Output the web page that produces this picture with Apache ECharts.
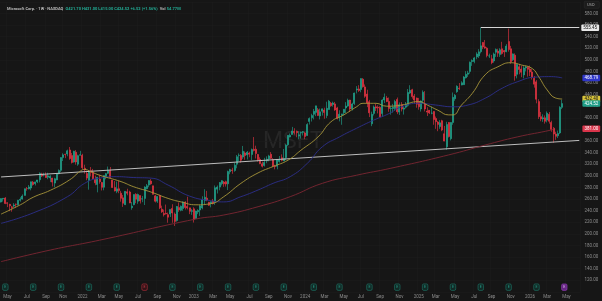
<!DOCTYPE html>
<html style="height: 100%">
<head>
<meta charset="utf-8">
</head>
<body style="height: 100%; margin: 0; background: #161616">
<div id="container" style="width: 602px; height: 301px"></div>
<script src="https://cdn.jsdelivr.net/npm/echarts@6/dist/echarts.min.js"></script>
<script>
var firstWeek = '2021-04-12';
var weekCount = 271; // includes empty weeks to the right of the last bar

// weekly bars: [open, close, low, high]
var ohlc2021 = [
  [254.7,260.7,254.0,261.0],[260.2,261.2,255.5,261.5],[261.7,252.2,251.1,263.2],[253.4,252.5,246.0,254.4],
  [250.9,248.2,239.0,251.7],[246.5,245.2,238.1,248.3],[247.8,249.7,245.1,252.9],[251.2,250.8,245.2,252.1],
  [250.0,257.9,249.0,258.5],[257.9,259.4,255.4,263.0],[259.8,265.0,259.0,267.9],[266.2,277.7,265.9,278.0],
  [278.0,277.9,274.3,280.7],[277.5,280.8,276.6,284.1],[278.9,289.7,275.0,289.9],[289.0,284.9,283.0,291.0],
  [286.4,289.5,283.3,290.0],[289.8,292.9,287.4,293.0],[293.2,304.4,288.6,305.8],[303.2,299.7,298.0,305.3],
  [301.1,301.1,299.0,305.2],[301.0,297.0,296.5,305.8],[297.6,299.9,294.1,305.3],[296.3,299.4,289.2,301.0],
  [296.1,289.1,281.6,296.5],[287.4,294.9,280.3,296.6],[292.9,304.2,292.3,304.5],[303.6,309.2,302.4,311.1],
  [309.4,331.6,306.5,332.0],[331.4,336.1,325.5,338.8],[337.3,336.7,330.4,338.0],[337.5,343.1,333.7,345.1],
  [344.6,329.7,327.6,349.7],[334.9,323.0,321.2,339.3],[323.9,342.5,322.7,343.0],[340.7,323.8,319.2,344.3],
  [320.1,334.7,317.3,336.4],[335.5,336.3,335.0,343.0]
];
var ohlc2022 = [
  [335.4,314.0,311.5,338.0],[313.2,310.2,303.7,319.1],[304.0,296.0,292.4,309.1],[292.2,308.3,276.1,308.5],
  [308.9,305.9,299.0,315.1],[306.2,295.0,294.4,311.9],[293.8,287.9,283.7,300.3],[285.0,297.3,271.5,297.6],
  [294.3,289.9,286.4,302.0],[288.5,280.1,274.7,289.5],[280.3,300.4,275.0,300.6],[298.9,303.7,294.0,305.0],
  [304.3,309.4,303.0,316.0],[309.4,297.0,295.0,315.1],[292.6,279.8,279.3,292.7],[280.0,274.0,273.0,290.9],
  [273.3,277.5,270.0,290.0],[277.7,274.7,270.0,290.9],[270.1,261.1,255.4,274.0],[262.0,252.6,246.4,267.0],
  [250.3,273.2,249.5,273.3],[272.5,270.0,266.4,277.7],[272.1,253.0,252.9,274.2],[245.1,247.7,241.5,254.8],
  [250.3,267.7,249.2,268.0],[268.2,259.6,252.8,270.0],[256.2,267.7,251.7,269.3],[265.9,256.7,252.2,265.9],
  [259.8,260.4,254.5,265.3],[261.0,280.7,249.6,282.0],[277.8,282.9,276.6,285.9],[284.0,291.9,280.4,292.4],
  [291.0,286.2,284.5,294.2],[282.8,268.1,267.6,283.0],[265.4,256.1,254.0,267.1],[256.2,264.5,253.2,264.9],
  [265.9,244.7,242.6,267.5],[242.5,237.9,236.0,248.5],[234.9,232.9,229.8,241.8],[235.4,234.2,233.4,250.4],
  [233.0,228.6,219.1,236.6],[234.0,242.1,228.9,242.4],[243.8,235.9,219.1,251.0],[234.0,221.4,213.4,236.7],
  [223.0,247.1,221.0,248.0],[245.2,241.2,237.8,254.0],[240.6,247.5,238.8,248.9],[243.5,255.0,239.5,256.0],
  [254.8,245.4,241.8,256.1],[247.0,244.7,242.0,263.9],[244.7,238.7,233.9,245.0],[238.7,239.8,232.7,242.9]
];
var ohlc2023 = [
  [243.1,224.9,219.4,245.8],[226.5,239.2,225.7,239.9],[237.9,240.2,233.9,242.4],[241.1,248.2,230.9,249.8],
  [244.5,258.4,242.2,264.7],[257.4,263.1,250.5,276.8],[261.5,258.1,256.1,274.0],[254.5,249.2,248.1,255.0],
  [252.5,255.3,245.6,255.6],[256.4,252.3,250.6,260.1],[256.0,279.4,250.0,283.3],[276.9,280.6,269.5,283.3],
  [280.5,288.3,275.0,289.3],[286.5,291.6,283.4,292.4],[289.2,286.1,281.0,291.0],[289.9,285.8,281.4,291.6],
  [286.1,307.3,275.4,308.9],[306.9,310.7,302.6,312.0],[310.1,309.0,303.5,313.8],[309.1,318.3,307.0,322.6],
  [320.0,332.9,313.0,335.9],[335.2,335.4,325.1,338.6],[335.2,326.8,322.5,337.5],[332.3,342.3,329.1,351.5],
  [339.3,335.0,327.7,342.1],[336.0,340.5,328.2,342.7],[339.2,337.2,332.0,341.6],[336.6,345.2,327.0,347.0],
  [345.7,343.8,342.0,366.8],[345.9,338.4,329.9,351.9],[336.9,327.8,324.4,337.7],[328.4,321.0,320.0,332.0],
  [320.8,316.5,314.5,324.4],[317.9,323.0,316.0,331.0],[325.7,328.7,321.7,333.5],[329.0,334.3,325.0,336.2],
  [337.2,330.2,329.0,340.9],[327.8,317.0,315.0,330.4],[316.6,315.8,311.2,319.0],[316.3,327.3,311.2,327.5],
  [324.8,327.7,322.7,334.1],[331.1,326.7,324.9,336.9],[325.5,329.8,325.5,346.2],[331.3,352.8,326.9,354.4],
  [353.5,369.7,351.5,370.1],[366.8,369.9,366.1,373.0],[371.2,377.4,371.2,384.3],[376.8,374.5,371.1,382.0],
  [376.8,374.2,366.5,378.0],[368.5,370.7,362.9,377.0],[373.7,374.6,364.2,376.2],[375.0,376.0,369.5,377.2]
];
var ohlc2024 = [
  [373.9,367.8,362.9,376.0],[369.3,388.5,369.0,390.7],[393.7,398.7,388.4,400.7],[400.0,403.9,393.6,407.0],
  [406.1,411.2,397.2,415.3],[409.3,420.6,402.9,420.8],[413.9,404.1,403.4,417.0],[403.2,410.3,397.2,415.9],
  [411.5,415.5,403.9,415.9],[413.4,409.1,398.4,417.4],[403.8,416.4,399.4,427.8],[414.3,428.7,414.0,430.8],
  [425.2,420.7,419.1,427.4],[423.0,425.5,419.3,427.9],[424.0,413.6,412.0,427.4],[417.1,399.1,397.2,418.9],
  [400.1,406.3,393.8,413.0],[405.3,406.7,388.0,407.0],[408.8,414.7,404.0,415.2],[417.0,420.2,408.0,427.0],
  [420.2,430.2,419.0,433.0],[430.6,415.1,410.3,431.0],[415.5,423.9,412.6,426.0],[424.7,442.6,422.2,443.5],
  [448.1,449.8,442.0,454.6],[449.8,447.0,444.6,456.2],[448.7,467.6,444.0,468.0],[466.6,453.6,452.0,468.4],
  [453.3,437.1,434.5,457.5],[441.0,425.3,418.4,448.4],[427.8,408.5,401.2,430.9],[389.7,406.0,385.6,410.6],
  [407.6,418.5,404.0,421.2],[419.0,416.8,411.6,424.4],[418.0,417.1,407.6,421.5],[417.9,401.7,401.3,419.9],
  [407.2,430.6,402.1,432.0],[430.6,435.3,425.3,441.9],[434.0,428.0,427.0,437.8],[428.2,416.1,410.4,435.0],
  [416.0,416.3,405.5,419.7],[416.1,418.2,408.9,424.0],[416.1,428.2,412.0,431.0],[431.7,410.4,406.3,435.0],
  [409.8,422.5,404.9,426.5],[422.5,415.0,411.0,427.0],[414.9,417.0,405.6,419.8],[418.4,423.5,416.1,427.2],
  [421.6,443.6,419.3,449.6],[442.6,447.3,441.0,456.2],[448.4,436.6,433.0,450.0],[437.7,430.5,425.0,441.0],
  [434.0,423.4,417.4,435.0]
];
var ohlc2025 = [
  [428.0,419.0,414.0,434.3],[415.2,429.0,410.7,430.0],[430.2,444.1,424.0,447.3],[424.0,415.1,411.0,446.0],
  [411.6,409.8,403.0,418.2],[413.0,408.4,406.5,411.0],[408.0,408.2,406.0,419.0],[411.0,397.0,388.0,411.5],
  [398.8,393.3,381.0,402.2],[392.7,388.6,376.9,394.4],[385.0,391.3,381.0,396.0],[395.0,378.8,377.0,396.6],
  [372.5,359.8,359.5,386.0],[350.0,388.5,344.8,393.2],[392.0,367.8,366.0,392.5],[364.0,391.9,361.0,392.4],
  [392.0,435.3,388.0,443.7],[432.8,438.7,429.3,441.0],[445.0,454.3,443.0,456.0],[451.0,450.2,448.0,460.0],
  [456.5,460.4,456.0,463.0],[457.1,470.4,456.9,472.0],[469.0,475.0,467.8,480.4],[475.0,477.4,470.5,481.0],
  [480.0,495.9,476.0,497.0],[497.0,498.8,489.5,500.8],[497.0,503.3,494.0,505.0],[505.0,510.1,501.0,513.0],
  [506.7,513.7,503.0,518.3],[514.0,524.1,511.0,555.45],[530.0,522.0,518.3,530.5],[522.4,520.2,519.0,534.2],
  [520.0,507.2,504.2,521.7],[506.6,506.7,503.0,510.6],[501.7,495.0,492.4,508.5],[498.0,509.9,495.0,512.4],
  [513.0,517.9,505.0,519.5],[515.0,511.5,505.0,519.0],[509.0,517.4,505.0,520.0],[519.0,511.0,509.0,531.0],
  [516.0,513.6,505.0,517.0],[514.0,523.6,513.0,527.0],[531.5,517.8,514.0,553.7],[519.0,496.8,493.0,524.0],
  [500.0,510.2,498.0,511.0],[508.0,472.1,464.0,511.0],[475.0,492.0,468.0,493.0],[488.0,483.2,475.0,493.0],
  [484.0,478.5,470.0,490.0],[474.0,485.9,468.0,489.0],[486.0,487.7,480.0,490.0],[487.0,483.6,471.0,489.0]
];
var ohlc2026 = [
  [484.0,479.0,472.0,490.0],[479.0,470.0,466.0,484.0],[468.0,458.0,452.0,472.0],[462.0,432.0,425.0,465.0],
  [428.0,402.0,398.0,432.0],[402.0,398.0,394.0,410.0],[398.0,400.0,393.0,406.0],[400.0,394.0,390.0,404.0],
  [396.0,408.0,392.0,411.0],[406.0,394.0,390.0,410.0],[392.0,380.0,376.0,395.0],[382.0,372.0,357.0,384.0],
  [372.0,368.0,362.0,376.0],[369.0,373.0,365.0,378.0],[374.0,418.0,372.0,420.0],[418.0,424.52,415.0,431.0]
];

// moving averages: [week index, value]
var maFast = [[0,234],[9,250],[15,263],[23,275],[32,293],[37,308],[39,311],[42,307],[46,301],[56,290],
  [62,281],[70,272],[78,261],[84,255],[91,250],[98,252],[104,264],[112,287],[120,305],[127,316],[134,327],
  [140,344],[148,367],[154,393],[160,405],[166,419],[169,425],[175,425],[180,420],[187,422],[195,428],
  [199,422],[204,413],[209,405],[211,405],[215,422],[220,442],[226,474],[232,488],[238,495],[243,491],
  [248,485],[251,471],[255,448],[259,434],[262,432.4]];
var maMid = [[0,218],[15,236],[31,264],[39,287],[46,296],[54,298.5],[62,297],[70,296],[78,284],[88,265],
  [98,257],[104,255],[112,264],[120,275.5],[127,287],[135,298.5],[143,321.5],[150,350],[158,367],
  [166,382],[174,396],[181,407],[187,419],[195,425],[203,422],[211,419],[218,422],[226,433.6],[234,451],
  [241,462],[249,470],[257,471],[262,468.79]];
var maSlow = [[0,152],[23,172],[46,189],[91,225.5],[104,232.4],[120,246.7],[135,264],[150,287],
  [166,301],[182,313],[209,336],[226,353],[241,367],[257,379],[258,381]];

var trendLine = [[0,298],[270,361]];
var athWeek = '2025-07-28';
var athPrice = 555.45;
var lastPrice = 424.52;

var earningsWeeks = ['2021-04-26','2021-07-26','2021-10-25','2022-01-24','2022-04-25','2022-10-24',
  '2023-01-23','2023-04-24','2023-07-24','2023-10-23','2024-01-29','2024-04-22','2024-07-29',
  '2024-10-28','2025-01-27','2025-04-28','2025-07-28','2025-10-27','2026-01-26'];
var earningsMiss = ['2022-07-25'];
var earningsNext = ['2026-04-27'];

var monthNames = ['Jan','Feb','Mar','Apr','May','Jun','Jul','Aug','Sep','Oct','Nov','Dec'];

var weeks = [];
var d = new Date(firstWeek + 'T00:00:00Z');
for (var i = 0; i < weekCount; i++) {
  weeks.push(d.toISOString().slice(0, 10));
  d.setUTCDate(d.getUTCDate() + 7);
}

var bars = [].concat(ohlc2021, ohlc2022, ohlc2023, ohlc2024, ohlc2025, ohlc2026);
while (bars.length < weekCount) bars.push('-');

function monthStart(index) {
  if (index === 0) return false;
  var m = +weeks[index].slice(5, 7);
  return m !== +weeks[index - 1].slice(5, 7) && m % 2 === 1;
}

var up = '#22ab94', down = '#f23645';
var markerLevel = 108;
var font = 'Roboto, sans-serif';
var hidden = { color: 'rgba(0,0,0,0)', width: 0 };

function tagLabel(text, bg, fg) {
  return {
    show: true, position: 'end', distance: 2, formatter: text,
    backgroundColor: bg, color: fg, fontSize: 4.5, fontFamily: font,
    padding: [1, 2, 0.5, 2], borderRadius: 1
  };
}
function tag(value, bg, fg) {
  return { yAxis: value, lineStyle: hidden, label: tagLabel(value.toFixed(2), bg, fg) };
}
function tagLine(value, bg, fg) {
  return { silent: true, symbol: ['none', 'none'], animation: false, lineStyle: hidden, data: [tag(value, bg, fg)] };
}
function earnings(list, fill, border, text) {
  return {
    type: 'scatter', symbol: 'roundRect', symbolSize: [5.5, 6.5], silent: true,
    data: list.map(function (w) { return [w, markerLevel]; }),
    itemStyle: { color: fill, borderColor: border, borderWidth: 0.7 },
    label: { show: true, formatter: 'E', color: text, fontSize: 3.5, fontFamily: font, position: 'inside' },
    z: 5
  };
}

var dom = document.getElementById('container');
var myChart = echarts.init(dom);

var option = {
  backgroundColor: '#161616',
  animation: false,
  title: {
    left: 2, top: 2,
    text: '{a|Microsoft Corp. · 1W · NASDAQ}  {b|O421.70 H431.00 L415.00 C424.52 +6.52 (+1.56%)}  {a|Vol} {b|54.77M}',
    textStyle: {
      fontSize: 4,
      rich: {
        a: { color: '#b8b8b8', fontSize: 4, fontFamily: font },
        b: { color: up, fontSize: 4, fontFamily: font }
      }
    }
  },
  graphic: [
    { type: 'text', left: 263, top: 131, z: 0,
      style: { text: 'MSFT', fontSize: 23, fontFamily: font, fill: '#262626' } },
    { type: 'rect', left: 584, top: 1, z: 0,
      shape: { width: 15, height: 7, r: 1 }, style: { fill: '#1c1c1c', stroke: '#2e2e2e', lineWidth: 0.5 } },
    { type: 'text', left: 587, top: 2.5, z: 1,
      style: { text: 'USD', fontSize: 4, fontFamily: font, fill: '#a8a8a8' } }
  ],
  grid: { left: -0.62, top: 1.8, width: 581, height: 290 },
  xAxis: {
    type: 'category',
    data: weeks,
    boundaryGap: true,
    axisLine: { show: false },
    axisTick: { show: false },
    axisLabel: {
      interval: monthStart,
      margin: 3,
      fontSize: 4.5, fontFamily: font, color: '#8c8c8c',
      formatter: function (v) {
        var m = +v.slice(5, 7);
        return m === 1 ? v.slice(0, 4) : monthNames[m - 1];
      }
    },
    splitLine: { show: true, interval: monthStart, lineStyle: { color: '#1d1d1d', width: 0.6 } }
  },
  yAxis: {
    type: 'value',
    position: 'right',
    min: 100, max: 600, interval: 20,
    axisLine: { show: false },
    axisTick: { show: false },
    axisLabel: {
      showMinLabel: false, showMaxLabel: false,
      margin: 4, fontSize: 4.5, fontFamily: font, color: '#8c8c8c',
      formatter: function (v) { return v.toFixed(2); }
    },
    splitLine: { lineStyle: { color: '#1d1d1d', width: 0.6 } }
  },
  series: [
    {
      type: 'line', data: trendLine, symbol: 'none', silent: true,
      lineStyle: { color: '#bdbdbd', width: 1 }
    },
    {
      type: 'line', data: maSlow, symbol: 'none', smooth: true, silent: true,
      lineStyle: { color: '#7c2632', width: 0.9 },
      markLine: tagLine(maSlow[maSlow.length - 1][1], '#d9344a', '#ffffff')
    },
    {
      type: 'line', data: maMid, symbol: 'none', smooth: true, silent: true,
      lineStyle: { color: '#2d2f8c', width: 0.9 },
      markLine: tagLine(maMid[maMid.length - 1][1], '#2f36c8', '#ffffff')
    },
    {
      type: 'line', data: maFast, symbol: 'none', smooth: true, silent: true,
      lineStyle: { color: '#a8963a', width: 0.9 },
      markLine: tagLine(maFast[maFast.length - 1][1], '#d8c43c', '#111111')
    },
    {
      type: 'candlestick',
      data: bars,
      barWidth: 1.5,
      itemStyle: { color: up, color0: down, borderColor: up, borderColor0: down, borderWidth: 0.6 },
      markLine: {
        silent: true, symbol: ['none', 'none'], animation: false,
        data: [
          [
            { coord: [athWeek, athPrice], lineStyle: { color: '#d6d6d6', width: 1, type: 'solid' },
              label: tagLabel(athPrice.toFixed(2), '#e8e8e8', '#111111') },
            { coord: [weeks[weeks.length - 1], athPrice] }
          ],
          tag(lastPrice, '#1f9e88', '#ffffff')
        ]
      }
    },
    earnings(earningsWeeks, '#10302b', '#1f7f6f', '#2bb39c'),
    earnings(earningsMiss, '#3a1116', '#c0323f', '#f04a57'),
    earnings(earningsNext, '#7b2a9e', '#9a3fc2', '#f0d8ff')
  ]
};

myChart.setOption(option);
</script>
</body>
</html>
